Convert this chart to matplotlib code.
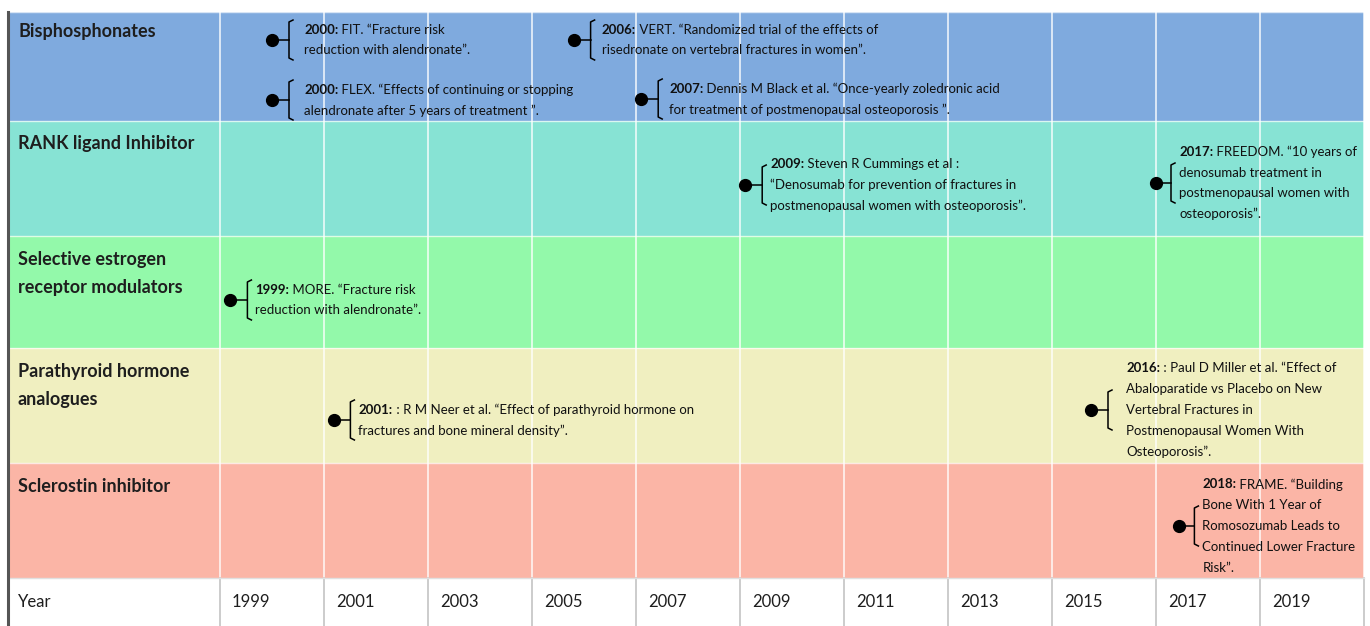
import matplotlib
matplotlib.use("Agg")
import matplotlib.pyplot as plt
from matplotlib.patches import Rectangle
from matplotlib.transforms import Affine2D

plt.rcParams['font.family'] = ['Lato', 'DejaVu Sans']

# drug classes (rows) and their colours
classes = ["Bisphosphonates", "RANK ligand Inhibitor",
           "Selective estrogen\nreceptor modulators",
           "Parathyroid hormone\nanalogues", "Sclerostin inhibitor"]
row_colors = ["#7faade", "#87e3d4", "#93f9aa", "#f0efc0", "#fbb5a6"]

# year axis
year_ticks = [1999, 2001, 2003, 2005, 2007, 2009, 2011, 2013, 2015, 2017, 2019]

# trials
event_row = [0, 0, 0, 0, 1, 1, 2, 3, 3, 4]
event_pos = [2000.0, 2000.0, 2005.8, 2007.1, 2009.1, 2017.0, 1999.2, 2001.2, 2015.75, 2017.45]
event_tag = ["2000:", "2000:", "2006:", "2007:", "2009:", "2017:", "1999:", "2001:", "2016:", "2018:"]
event_lines = [
    [" FIT. \u201cFracture risk", "reduction with alendronate\u201d."],
    [" FLEX. \u201cEffects of continuing or stopping", "alendronate after 5 years of treatment \u201d."],
    [" VERT. \u201cRandomized trial of the effects of", "risedronate on vertebral fractures in women\u201d."],
    [" Dennis M Black et al. \u201cOnce-yearly zoledronic acid", "for treatment of postmenopausal osteoporosis \u201d."],
    [" Steven R Cummings et al :", "\u201cDenosumab for prevention of fractures in",
     "postmenopausal women with osteoporosis\u201d."],
    [" FREEDOM. \u201c10 years of", "denosumab treatment in", "postmenopausal women with",
     "osteoporosis\u201d."],
    [" MORE. \u201cFracture risk", "reduction with alendronate\u201d."],
    [" : R M Neer et al. \u201cEffect of parathyroid hormone on",
     "fractures and bone mineral density\u201d."],
    [" : Paul D Miller et al. \u201cEffect of", "Abaloparatide vs Placebo on New",
     "Vertebral Fractures in", "Postmenopausal Women With", "Osteoporosis\u201d."],
    [" FRAME. \u201cBuilding", "Bone With 1 Year of", "Romosozumab Leads to",
     "Continued Lower Fracture", "Risk\u201d."],
]
# dot place inside its row (px from row top) and text gap after the dot (px)
event_dy = [28, 88, 28, 87, 64, 62, 64, 72, 62, 63]
event_tx = [32, 32, 28, 28, 25, 23, 25, 24, 35, 23]

# layout (pixels)
W, H = 1370, 626
row_h = [109, 115, 112, 115, 115, 48]
top = 12
edges = [top]
for h in row_h:
    edges.append(edges[-1] + h)
x0_px, x1999_px, px_per_year = 8, 220, 52.0

fig = plt.figure(figsize=(W / 100, H / 100), dpi=100)
ax = fig.add_axes([0, 0, 1, 1])
ax.set_xlim(1999 - x1999_px / px_per_year, 1999 + (W - x1999_px) / px_per_year)
ax.set_ylim(H, 0)
ax.axis("off")

left = 1999 - (x1999_px - x0_px) / px_per_year
right = year_ticks[-1] + 2

for i, c in enumerate(row_colors):
    ax.add_patch(Rectangle((left, edges[i]), right - left, row_h[i], fc=c, ec="none", zorder=0))
    ax.plot([left, right], [edges[i], edges[i]], color="white", lw=1.0, alpha=0.7, zorder=1)
    for k, part in enumerate(classes[i].split("\n")):
        ax.text(left + 10 / px_per_year, edges[i] + (19 if i == 0 else 23) + 29 * k, part,
                fontsize=13, fontweight="bold", color="#1e1e1e", va="center", ha="left")

# grid lines
for yr in year_ticks + [right]:
    ax.plot([yr, yr], [edges[0], edges[5]], color="white", lw=1.2, alpha=0.85, zorder=1)
    ax.plot([yr, yr], [edges[5], edges[6]], color="#c4c4c4", lw=1.2, zorder=1)
ax.plot([left, left], [edges[0], edges[6]], color="#555555", lw=2.2, zorder=3)
ax.plot([left, right], [edges[5], edges[5]], color="#e0e0e0", lw=1, zorder=1)

# year row
ymid = (edges[5] + edges[6]) / 2
ax.text(left + 10 / px_per_year, ymid, "Year", fontsize=12, color="#1e1e1e", va="center", ha="left")
for yr in year_ticks:
    ax.text(yr + 12 / px_per_year, ymid, str(yr), fontsize=12, color="#1e1e1e", va="center", ha="left")

LH = 20.8
for r, xp, tag, lines, dy, tx in zip(event_row, event_pos, event_tag, event_lines, event_dy, event_tx):
    y = edges[r] + dy
    ax.plot([xp], [y], "o", color="black", ms=8.5, zorder=5)
    # bracket, drawn in pixels relative to the dot
    px, py = ax.transData.transform((xp, y))
    tr = Affine2D().translate(px, py)
    bx = min(17, tx - 8)
    ax.plot([0, bx], [0, 0], color="black", lw=1.1, transform=tr, zorder=5)
    ax.plot([bx + 4, bx, bx, bx + 4], [20, 18, -18, -20], color="black", lw=1.1, transform=tr, zorder=5)
    n = len(lines)
    for k, line in enumerate(lines):
        off = -(k - (n - 1) / 2) * LH
        if k == 0:
            bt = ax.annotate(tag, (xp, y), xytext=(tx, off), textcoords="offset pixels",
                             fontsize=9.5, fontweight="bold", color="#111111",
                             va="center", ha="left", zorder=6)
            ax.annotate(line, (1, 0.5), xycoords=bt, fontsize=9.5, color="#111111",
                        va="center", ha="left", zorder=6)
        else:
            ax.annotate(line, (xp, y), xytext=(tx, off), textcoords="offset pixels",
                        fontsize=9.5, color="#111111", va="center", ha="left", zorder=6)

fig.savefig("out.png", dpi=100)
